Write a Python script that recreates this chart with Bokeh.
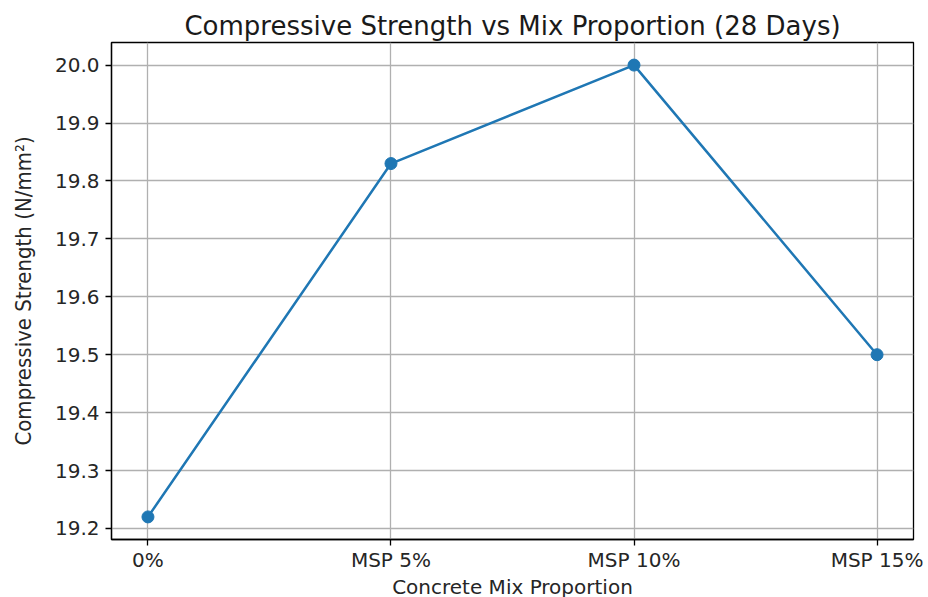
from bokeh.plotting import figure
from bokeh.models import FixedTicker, Range1d
from bokeh.embed import file_html
from bokeh.resources import INLINE

categories = ["0%", "MSP 5%", "MSP 10%", "MSP 15%"]
strength = [19.22, 19.83, 20.0, 19.5]
y_ticks = [19.2, 19.3, 19.4, 19.5, 19.6, 19.7, 19.8, 19.9, 20.0]

xs = list(range(len(categories)))

p = figure(width=928, height=597, output_backend="svg", toolbar_location=None,
           frame_width=802, frame_height=497,
           min_border_left=111, min_border_right=15, min_border_top=42, min_border_bottom=58,
           x_range=Range1d(-0.15, 3.15), y_range=Range1d(19.181, 20.039))

p.title.text = "Compressive Strength vs Mix Proportion (28 Days)"
p.title.align = "center"
p.title.text_font = "DejaVu Sans"
p.title.text_font_size = "26px"
p.title.text_font_style = "normal"
p.title.text_color = "#1a1a1a"
p.title.offset = 0
p.title.standoff = 4

p.line(xs, strength, line_color="#1f77b4", line_width=2.5)
p.scatter(xs, strength, size=12, fill_color="#1f77b4", line_color="#1f77b4")

p.xaxis.ticker = FixedTicker(ticks=xs)
p.xaxis.major_label_overrides = {i: c for i, c in enumerate(categories)}
p.yaxis.ticker = FixedTicker(ticks=y_ticks)
p.yaxis.major_label_overrides = {t: f"{t:.1f}" for t in y_ticks}

for ax in (p.xaxis[0], p.yaxis[0]):
    ax.axis_line_color = "black"
    ax.axis_line_width = 1.3
    ax.major_tick_line_color = "black"
    ax.major_tick_line_width = 1.3
    ax.major_tick_out = 6
    ax.major_tick_in = 0
    ax.minor_tick_line_color = None
    ax.major_label_text_font = "DejaVu Sans"
    ax.major_label_text_font_size = "20px"
    ax.major_label_text_color = "#262626"
    ax.axis_label_text_font_style = "normal"
    ax.axis_label_text_color = "#262626"

p.xaxis.axis_label = "Concrete Mix Proportion"
p.xaxis.axis_label_text_font = "DejaVu Sans"
p.xaxis.axis_label_text_font_size = "20px"
p.xaxis.axis_label_standoff = 0
p.xaxis.major_label_standoff = 2

p.yaxis.axis_label = "Compressive Strength (N/mm²)"
p.yaxis.axis_label_text_font = "DejaVu Sans Condensed"
p.yaxis.axis_label_text_font_size = "22px"
p.yaxis.axis_label_standoff = 16
p.yaxis.major_label_standoff = 6

p.xgrid.ticker = FixedTicker(ticks=xs)
p.ygrid.ticker = FixedTicker(ticks=y_ticks)
p.grid.grid_line_color = "#b0b0b0"
p.grid.grid_line_width = 1.3

p.outline_line_color = "black"
p.outline_line_width = 1.3
p.background_fill_color = "white"
p.border_fill_color = "white"

open("out.html", "w").write(file_html(p, INLINE))
